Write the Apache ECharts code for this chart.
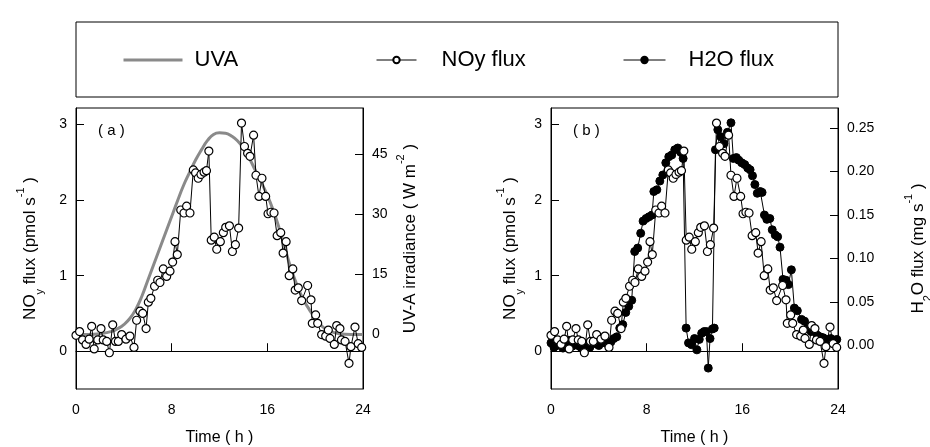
<!DOCTYPE html>
<html><head><meta charset="utf-8">
<script src="https://cdn.jsdelivr.net/npm/echarts@6.0.0/dist/echarts.min.js"></script>
<style>html,body{margin:0;padding:0;background:#fff}#c{width:930px;height:447px}</style>
</head><body><div id="c"></div>
<script>
// ---- data ----
const xTicks = [0, 8, 16, 24];
const noyTicks = [0, 1, 2, 3];
const uvaTicks = [0, 15, 30, 45];
const h2oTicks = [0, 0.05, 0.10, 0.15, 0.20, 0.25];

const noyTime = [0.00,0.30,0.55,0.84,1.10,1.31,1.52,1.82,2.09,2.28,2.57,2.79,3.07,3.30,3.54,3.82,4.18,4.51,4.85,5.07,5.35,5.58,5.86,6.05,6.26,6.57,6.83,7.02,7.30,7.58,7.86,8.08,8.28,8.47,8.76,9.03,9.25,9.53,9.81,10.00,10.22,10.45,10.71,10.91,11.11,11.31,11.56,11.77,12.07,12.32,12.52,12.83,13.08,13.33,13.60,13.84,14.09,14.35,14.55,14.85,15.05,15.30,15.55,15.86,16.06,16.30,16.56,16.82,17.12,17.32,17.57,17.83,18.13,18.33,18.59,18.87,19.37,19.65,19.76,20.04,20.21,20.54,20.88,21.10,21.24,21.60,21.80,22.07,22.20,22.50,22.83,22.99,23.33,23.60,23.89];
const noyFlux = [0.21,0.26,0.15,0.09,0.16,0.33,0.03,0.15,0.30,0.15,0.13,-0.02,0.35,0.13,0.13,0.22,0.16,0.20,0.05,0.41,0.53,0.50,0.30,0.65,0.70,0.86,0.94,0.91,1.09,0.99,1.06,1.18,1.45,1.28,1.87,1.83,1.92,1.83,2.40,2.36,2.29,2.34,2.37,2.39,2.65,1.47,1.51,1.35,1.45,1.57,1.64,1.66,1.32,1.41,1.63,3.02,2.71,2.62,2.58,2.86,2.33,2.05,2.29,2.05,1.82,1.84,1.83,1.53,1.57,1.30,1.45,1.00,1.09,0.81,0.84,0.67,0.87,0.68,0.37,0.48,0.37,0.22,0.20,0.28,0.17,0.09,0.34,0.30,0.15,0.13,-0.16,0.06,0.32,0.10,0.05];

const uvaTime = [0,1,2,3,3.5,4,4.5,5,5.5,6,6.5,7,7.5,8,8.5,9,9.5,10,10.5,11,11.5,12,12.5,13,13.5,14,14.5,15,15.5,16,16.5,17,17.5,18,18.5,19,19.5,20,20.5,21,22,23,24];
const uvaIrr = [0,0,0.2,0.8,1.5,2.5,4.0,6.3,9.5,13.5,17.5,21.5,25.5,29.5,33.5,37.3,40.5,43.6,46.2,48.5,50.0,50.4,50.3,49.6,48.4,46.5,44.0,41.0,38.0,34.8,31.0,26.5,21.3,16.3,12.2,8.8,6.3,4.0,2.3,1.2,0.2,0,0];

const h2oTime = [0.00,0.25,0.50,0.75,1.00,1.25,1.50,1.75,2.00,2.25,2.50,2.75,3.00,3.25,3.50,3.75,4.00,4.25,4.50,4.75,5.00,5.25,5.50,5.75,6.00,6.25,6.50,6.75,7.00,7.25,7.50,7.70,7.95,8.20,8.45,8.60,8.85,9.10,9.35,9.60,9.85,10.10,10.35,10.60,10.85,11.05,11.30,11.50,11.75,12.00,12.20,12.40,12.60,12.80,13.00,13.15,13.30,13.50,13.65,13.75,13.95,14.20,14.45,14.75,15.05,15.25,15.50,15.70,15.95,16.20,16.45,16.65,16.85,17.05,17.25,17.50,17.65,17.85,18.05,18.30,18.50,18.75,18.95,19.15,19.40,19.65,19.85,20.10,20.35,20.60,20.95,21.20,21.50,21.75,22.00,22.25,22.50,22.75,23.05,23.40,23.65,23.90];
const h2oFlux = [0.003,-0.002,0.000,0.005,-0.003,0.002,0.006,-0.001,0.004,0.000,-0.002,0.003,0.001,-0.002,0.004,0.002,0.000,0.005,0.003,0.002,0.004,0.008,0.010,0.020,0.024,0.038,0.045,0.052,0.108,0.112,0.129,0.143,0.146,0.148,0.150,0.177,0.179,0.189,0.196,0.210,0.217,0.219,0.225,0.227,0.222,0.215,0.020,0.003,0.001,0.008,-0.005,0.007,0.014,0.016,0.016,-0.026,0.008,0.019,0.020,0.225,0.248,0.240,0.232,0.245,0.256,0.215,0.216,0.213,0.210,0.208,0.204,0.202,0.195,0.185,0.175,0.177,0.176,0.150,0.145,0.146,0.133,0.127,0.125,0.113,0.076,0.075,0.070,0.087,0.043,0.040,0.030,0.028,0.022,0.016,0.018,0.012,0.010,0.009,0.007,0.008,0.006,0.007];

// ---- chart ----
const FF = 'Liberation Sans, Arial, sans-serif';
const zip = (a, b) => a.map((t, i) => [t, b[i]]);
const chart = echarts.init(document.getElementById('c'), null, {renderer: 'canvas'});

const tickFont = {fontSize: 14, fontFamily: FF, color: '#000'};
const nameRich = {
  n: {fontSize: 17, fontFamily: FF, color: '#000', lineHeight: 26},
  sub: {fontSize: 11, fontFamily: FF, color: '#000', lineHeight: 12, verticalAlign: 'bottom', padding: [0, 0, -2, 0]},
  sup: {fontSize: 11, fontFamily: FF, color: '#000', lineHeight: 12, verticalAlign: 'top', padding: [-2, 0, 0, 0]}
};

function xAxis(gridIndex) {
  return {
    type: 'value', gridIndex, min: 0, max: 24, interval: 8,
    name: 'Time ( h )', nameLocation: 'middle', nameGap: 41,
    nameTextStyle: {fontSize: 16, fontFamily: FF, color: '#000'},
    axisLine: {lineStyle: {color: '#000', width: 1}},
    axisTick: {inside: true, length: 8, lineStyle: {color: '#000'}},
    axisLabel: Object.assign({margin: 14}, tickFont),
    splitLine: {show: false}
  };
}
function yAxis(gridIndex, pos, min, max, ticks, name, gap, fmt, namePad) {
  return {
    type: 'value', gridIndex, position: pos, min, max,
    name, nameLocation: 'middle', nameGap: gap,
    nameTextStyle: {rich: nameRich, fontSize: 17, fontFamily: FF, color: '#000', padding: namePad || 0},
    axisLine: {show: true, lineStyle: {color: '#000', width: 1}},
    axisTick: {inside: true, length: 8, customValues: ticks, lineStyle: {color: '#000'}},
    axisLabel: Object.assign({margin: 9, customValues: ticks, formatter: fmt || (v => String(v))}, tickFont),
    splitLine: {show: false}
  };
}

const noyName = '{n|NO}{sub|y}{n| flux (pmol s}{sup|-1}{n| )}';
const uvaName = '{n|UV-A irradiance ( W m}{sup|-2}{n| )}';
const h2oName = '{n|H}{sub|2}{n|O flux (mg s}{sup|-1}{n| )}';

const openSym = {color: '#fff', borderColor: '#000', borderWidth: 1.2};
const legText = {fontSize: 22, fontFamily: FF, color: '#000'};
const gridBase = {top: 108, bottom: 58, width: 287, show: true, borderColor: '#000', borderWidth: 1,
  backgroundColor: 'transparent', containLabel: false, outerBoundsMode: 'none'};
const option = {
  animation: false,
  backgroundColor: '#fff',
  graphic: [{type: 'rect', shape: {x: 76, y: 22, width: 762, height: 75}, style: {fill: 'none', stroke: '#000', lineWidth: 1}}],
  title: [
    {text: '( a )', left: 98, top: 123, padding: 0, textStyle: {fontSize: 15, fontWeight: 'normal', fontFamily: FF, color: '#000'}},
    {text: '( b )', left: 573, top: 123, padding: 0, textStyle: {fontSize: 15, fontWeight: 'normal', fontFamily: FF, color: '#000'}}
  ],
  legend: [
    {data: ['UVA'], left: 122, top: 49, padding: 0, itemWidth: 59, itemHeight: 8, selectedMode: false,
     itemStyle: {color: 'rgba(0,0,0,0)', borderWidth: 0}, lineStyle: {width: 3, color: '#8a8a8a'},
     textStyle: Object.assign({padding: [0, 0, 0, 7]}, legText)},
    {data: ['NOy flux'], left: 376, top: 49, padding: 0, itemWidth: 40, itemHeight: 8, selectedMode: false,
     lineStyle: {width: 1, color: '#000'},
     textStyle: Object.assign({padding: [0, 0, 0, 20]}, legText)},
    {data: ['H2O flux'], left: 623, top: 49, padding: 0, itemWidth: 42, itemHeight: 8, selectedMode: false,
     lineStyle: {width: 1, color: '#000'},
     textStyle: Object.assign({padding: [0, 0, 0, 18]}, legText)}
  ],
  grid: [
    Object.assign({left: 76}, gridBase),
    Object.assign({left: 551}, gridBase)
  ],
  xAxis: [xAxis(0), xAxis(1)],
  yAxis: [
    yAxis(0, 'left', -0.5, 3.22, noyTicks, noyName, 33),
    yAxis(0, 'right', -13.6, 56.6, uvaTicks, uvaName, 34, null, [0, 0, 0, 20]),
    yAxis(1, 'left', -0.5, 3.22, noyTicks, noyName, 28),
    yAxis(1, 'right', -0.05, 0.273, h2oTicks, h2oName, 67, v => v.toFixed(2))
  ],
  series: [
    {name: 'UVA', type: 'line', xAxisIndex: 0, yAxisIndex: 1, smooth: 0.5, symbol: 'none',
     lineStyle: {color: '#8a8a8a', width: 3}, itemStyle: {color: '#8a8a8a'}, data: zip(uvaTime, uvaIrr), z: 2},
    {name: 'NOy flux', type: 'line', xAxisIndex: 0, yAxisIndex: 0, symbol: 'circle', symbolSize: 8, showAllSymbol: true,
     lineStyle: {color: '#000', width: 1}, itemStyle: openSym, data: zip(noyTime, noyFlux), z: 3},
    {name: 'H2O flux', type: 'line', xAxisIndex: 1, yAxisIndex: 3, symbol: 'circle', symbolSize: 8, showAllSymbol: true,
     lineStyle: {color: '#000', width: 1}, itemStyle: {color: '#000', borderColor: '#000', borderWidth: 1}, data: zip(h2oTime, h2oFlux), z: 3},
    {name: 'NOy flux', type: 'line', xAxisIndex: 1, yAxisIndex: 2, symbol: 'circle', symbolSize: 8, showAllSymbol: true,
     lineStyle: {color: '#000', width: 1}, itemStyle: openSym, data: zip(noyTime, noyFlux), z: 4}
  ]
};
chart.setOption(option);
</script></body></html>
